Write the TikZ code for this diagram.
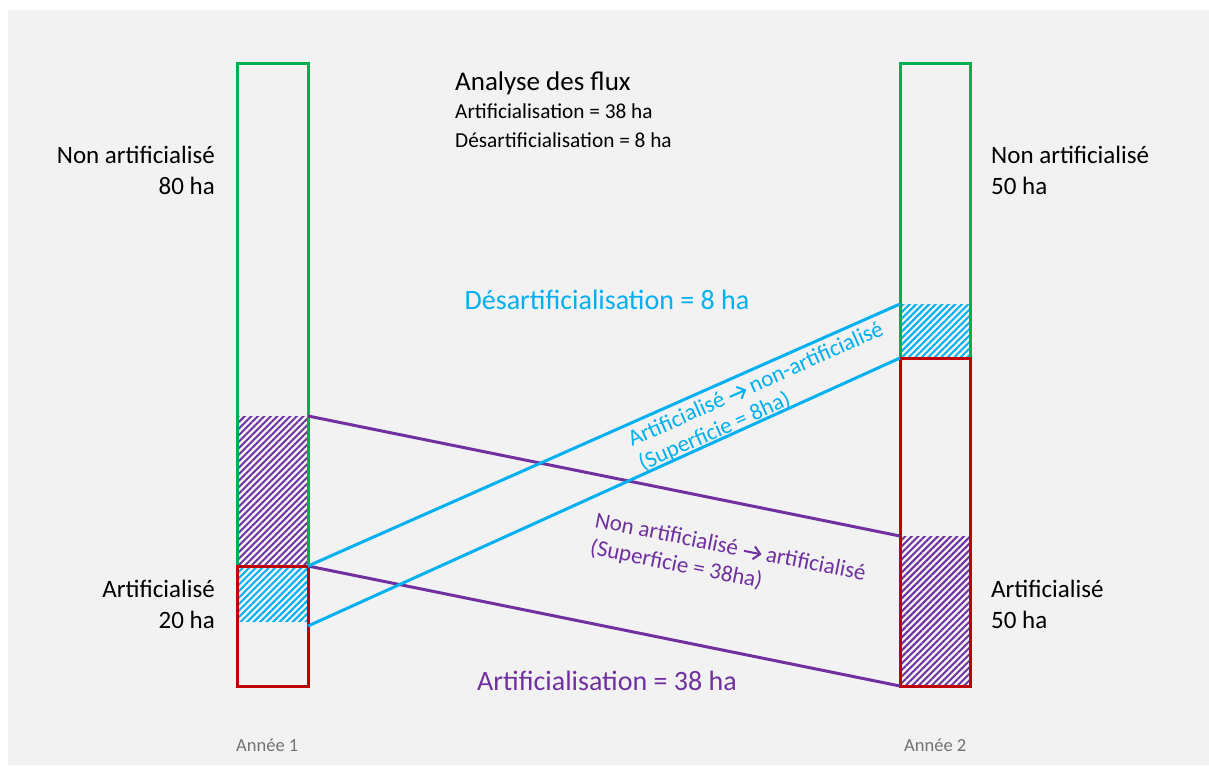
\documentclass[tikz,border=0pt]{standalone}
\usepackage{fontspec}
\setmainfont{Carlito}
\usetikzlibrary{patterns.meta}
\definecolor{bg}{HTML}{F2F2F2}
\definecolor{cgreen}{HTML}{00B050}
\definecolor{cred}{HTML}{C00000}
\definecolor{cpurple}{HTML}{7030A0}
\definecolor{ccyan}{HTML}{00B0F0}
\definecolor{cgray}{HTML}{767171}
\newcommand{\arr}{\tikz[baseline=0pt,x=1pt,y=1pt,line width=2pt]{\draw (0,6) -- (16,6); \draw[line join=miter] (10,12.5) -- (16.5,6) -- (10,-0.5);}}
\tikzset{
  big/.style={font=\fontsize{25}{31}\selectfont, inner sep=0pt, text=black},
  title/.style={font=\fontsize{27}{33}\selectfont, inner sep=0pt, text=black},
  small/.style={font=\fontsize{21.3}{26}\selectfont, inner sep=0pt, text=black},
  flow/.style={font=\fontsize{28}{34}\selectfont, inner sep=0pt},
  rot/.style={font=\fontsize{23}{27}\selectfont, inner sep=0pt},
  year/.style={font=\fontsize{18.5}{22}\selectfont, inner sep=0pt, text=cgray},
  bar/.style={line width=3pt},
  conn/.style={line width=3pt},
  hatchp/.style={pattern={Lines[angle=45,distance=4.6pt,line width=2pt]}, pattern color=cpurple},
  hatchc/.style={pattern={Lines[angle=45,distance=4.6pt,line width=2pt]}, pattern color=ccyan},
}
\begin{document}
\begin{tikzpicture}[x=1pt,y=-1pt]
\useasboundingbox (0,0) rectangle (1209,765);
\fill[white] (0,0) rectangle (1209,765);
\fill[bg] (8,10) rectangle (1209,765);
% hatches
\path[hatchp] (237,416) rectangle (308,566);
\path[hatchc] (237,566) rectangle (308,621);
\path[hatchc] (900,304) rectangle (970,358);
\path[hatchp] (900,536) rectangle (970,686);
% bars
\draw[bar, cgreen] (237,64) rectangle (308,566);
\draw[bar, cred] (237,566) rectangle (308,686);
\draw[bar, cgreen] (900,64) rectangle (970,358);
\draw[bar, cred] (900,358) rectangle (970,686);
% connection points
\coordinate (LP1) at (308,416);
\coordinate (LP2) at (308,566);
\coordinate (LC1) at (308,566);
\coordinate (LC2) at (308,626);
\coordinate (RC1) at (900,304);
\coordinate (RC2) at (900,358);
\coordinate (RP1) at (900,536);
\coordinate (RP2) at (900,686);
\draw[conn, cpurple] (LP1) -- (RP1);
\draw[conn, cpurple] (LP2) -- (RP2);
\draw[conn, ccyan] (LC1) -- (RC1);
\draw[conn, ccyan] (LC2) -- (RC2);
% side labels
\node[big, anchor=base east] (nal1) at (215,163) {Non artificialisé};
\node[big, anchor=base east] (nal2) at (215,194) {80 ha};
\node[big, anchor=base west] (nar1) at (991,163) {Non artificialisé};
\node[big, anchor=base west] (nar2) at (991,194) {50 ha};
\node[big, anchor=base east] (al1) at (215,597) {Artificialisé};
\node[big, anchor=base east] (al2) at (215,628) {20 ha};
\node[big, anchor=base west] (ar1) at (991,597) {Artificialisé};
\node[big, anchor=base west] (ar2) at (991,628) {50 ha};
% title
\node[title, anchor=base west] (t1) at (455,91) {Analyse des flux};
\node[small, anchor=base west] (t2) at (455,119) {Artificialisation = 38 ha};
\node[small, anchor=base west] (t3) at (455,147) {Désartificialisation = 8 ha};
% flow labels
\node[flow, text=ccyan, anchor=base] (fd) at (607,309) {Désartificialisation = 8 ha};
\node[flow, text=cpurple, anchor=base] (fa) at (607,690) {Artificialisation = 38 ha};
% rotated labels
\node[rot, text=ccyan, anchor=base west, rotate=24] (rc1) at (632,447) {Artificialisé \arr{} non-artificialisé};
\node[rot, text=ccyan, anchor=base west, rotate=24] (rc2) at (642.5,471) {(Superficie = 8ha)};
\node[rot, text=cpurple, anchor=base west, rotate=-11.3] (rp1) at (594,527) {Non artificialisé \arr{} artificialisé};
\node[rot, text=cpurple, anchor=base west, rotate=-11.3] (rp2) at (589,554) {(Superficie = 38ha)};
% years
\node[year, anchor=base west] (y1) at (236,751) {Année 1};
\node[year, anchor=base west] (y2) at (904,751) {Année 2};
\end{tikzpicture}
\end{document}
